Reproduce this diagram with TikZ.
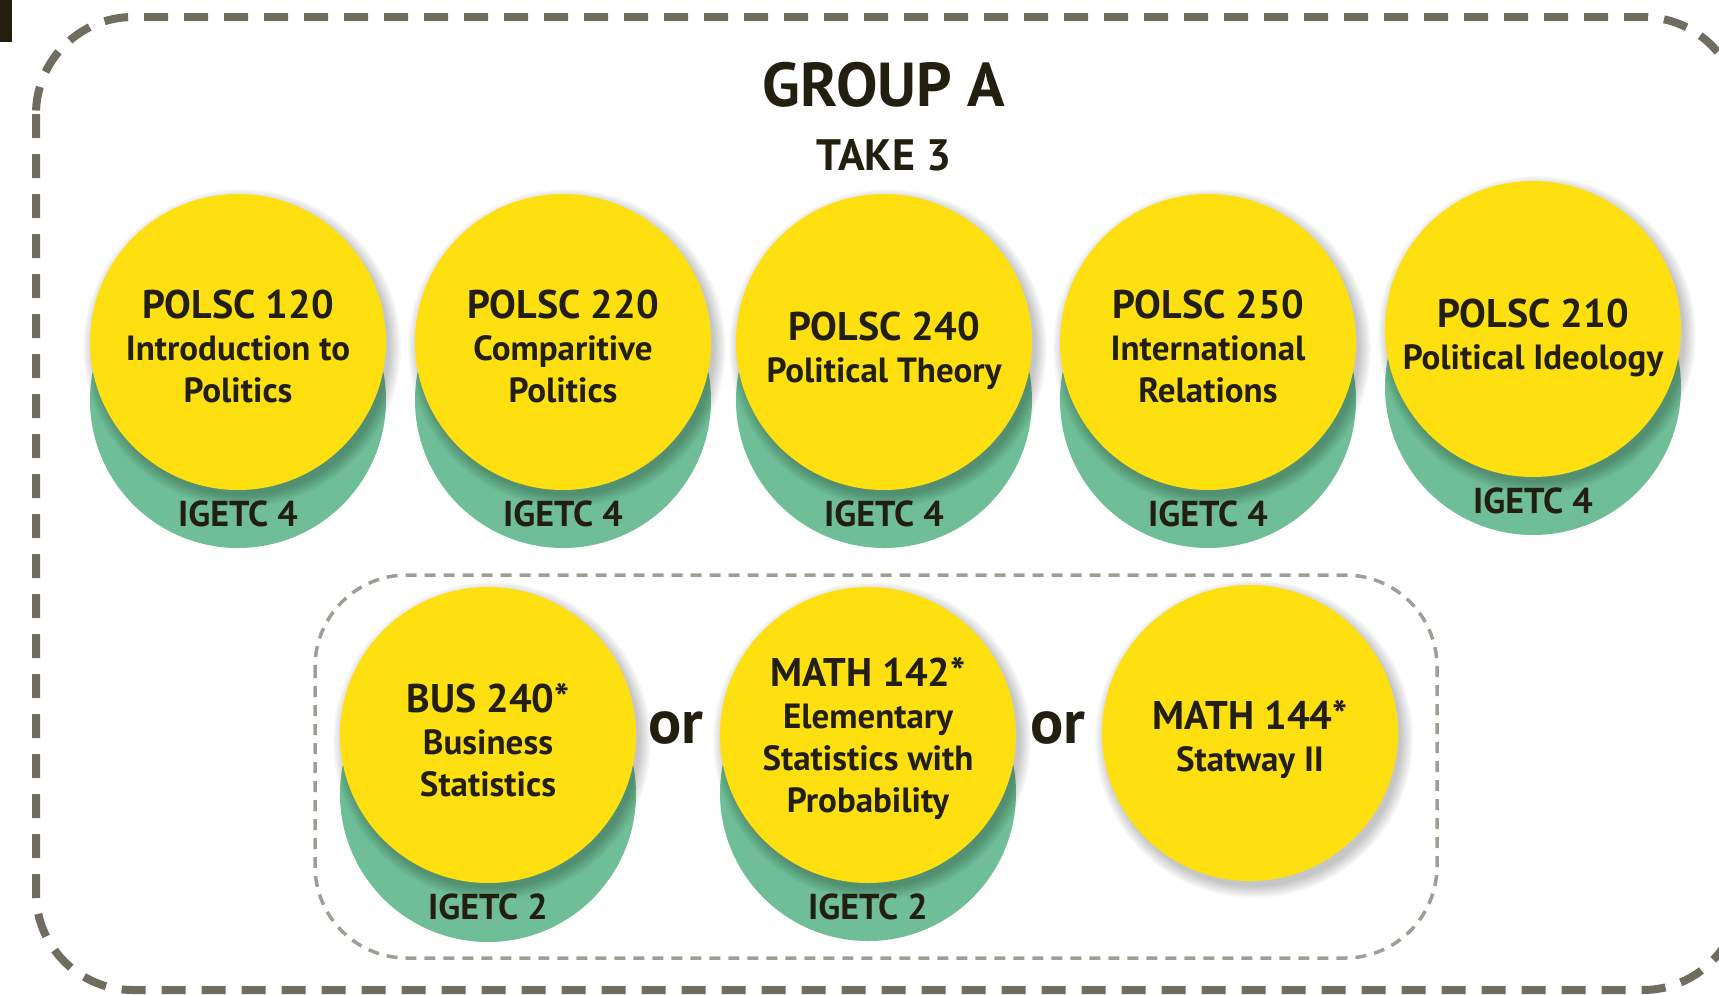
\documentclass[tikz,border=0pt]{standalone}
\usepackage{fontspec}
\setmainfont{PT Sans}
\usetikzlibrary{positioning}
\definecolor{sunyellow}{RGB}{254,224,17}
\definecolor{seagreen}{RGB}{111,190,151}
\definecolor{inkdark}{RGB}{35,31,16}
\definecolor{dashgray}{RGB}{112,108,95}
\definecolor{dashlight}{RGB}{160,158,148}
\tikzset{font={\fontsize{35pt}{42pt}\selectfont\bfseries}}
\newcommand{\ttl}[2][37pt]{{\fontsize{40pt}{40pt}\selectfont\rule{0pt}{#1}#2}}

\begin{document}
\begin{tikzpicture}[x=1pt,y=-1pt,
base/.style={circle,fill=seagreen,minimum size=296pt,inner sep=0pt},
course/.style={circle,fill=sunyellow,minimum size=296pt,inner sep=0pt,align=center,text=inkdark},
tag/.style={text=inkdark,inner sep=2pt,font=\fontsize{36pt}{36pt}\selectfont\bfseries},
orword/.style={text=inkdark,font=\fontsize{62pt}{62pt}\selectfont\bfseries},
glow/.pic={\foreach \r in {1,...,8}\fill[black,opacity=0.03] (4,6) circle ({146pt+\r*1.6pt});}
]
\useasboundingbox (0,0) rectangle (1719,994);
\clip (0,0) rectangle (1719,994);

\fill[inkdark] (0,0) rectangle (12,42);

%outer and inner frames
\draw[dashgray,line width=8pt,dash pattern=on 24pt off 16pt,rounded corners=97pt] (36,17) rectangle (1740,990);
\draw[dashlight,line width=3.5pt,dash pattern=on 11pt off 8pt,rounded corners=92pt] (315,575) rectangle (1437,958);

\node[text=inkdark,font=\fontsize{62pt}{62pt}\selectfont\bfseries] (group) at (884,85) {GROUP A};
\node[text=inkdark,font=\fontsize{44pt}{44pt}\selectfont\bfseries] (take) at (884,155) {TAKE 3};

%top row
\node[base] (g120) at (238,400) {};
\node[base] (g220) at (563,400) {};
\node[base] (g240) at (884,400) {};
\node[base] (g250) at (1208,400) {};
\node[base] (g210) at (1533,387) {};
\foreach \x/\y in {238/342,563/342,884/342,1208/342,1533/329}\pic at (\x,\y){glow};
\node[course] (c120) at (238,342) {\ttl{POLSC 120}\\Introduction to\\Politics};
\node[course] (c220) at (563,342) {\ttl{POLSC 220}\\Comparitive\\Politics};
\node[course] (c240) at (884,342) {\ttl[46pt]{POLSC 240}\\Political Theory};
\node[course] (c250) at (1208,342) {\ttl{POLSC 250}\\International\\Relations};
\node[course] (c210) at (1533,329) {\ttl[46pt]{POLSC 210}\\Political Ideology};
\node[tag,below=8pt of c120] (t120) {IGETC 4};
\node[tag,below=8pt of c220] (t220) {IGETC 4};
\node[tag,below=8pt of c240] (t240) {IGETC 4};
\node[tag,below=8pt of c250] (t250) {IGETC 4};
\node[tag,below=8pt of c210] (t210) {IGETC 4};

%bottom row
\node[base] (gbus) at (488,794) {};
\node[base] (g142) at (868,793) {};
\foreach \x/\y in {488/735,868/735,1250/733}\pic at (\x,\y){glow};
\node[course] (cbus) at (488,735) {\ttl[39pt]{BUS 240*}\\Business\\Statistics};
\node[course] (c142) at (868,735) {\ttl{MATH 142*}\\Elementary\\Statistics with\\Probability};
\node[course] (c144) at (1250,733) {\ttl[43pt]{MATH 144*}\\Statway II};
\node[tag,below=8pt of cbus] (tbus) {IGETC 2};
\node[tag,below=8pt of c142] (t142) {IGETC 2};
\node[orword] (or1) at (676,728) {or};
\node[orword] (or2) at (1058,728) {or};

\end{tikzpicture}
\end{document}
